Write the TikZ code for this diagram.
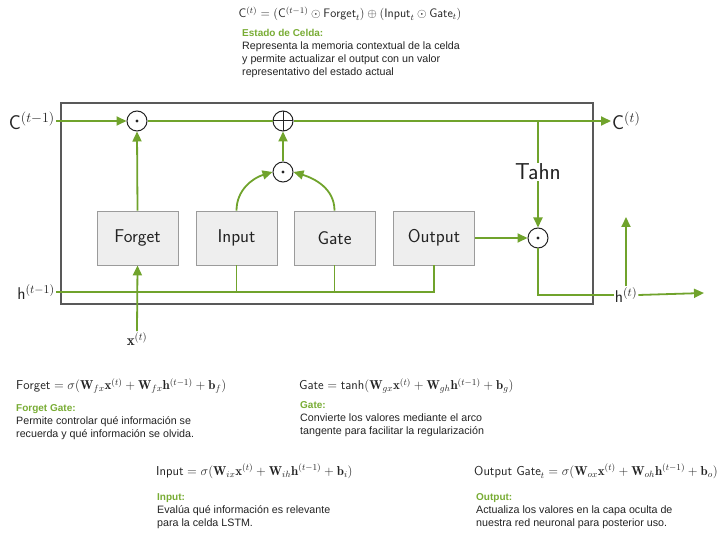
\RequirePackage{fix-cm}
\documentclass[tikz,border=0pt]{standalone}
\usepackage{fontspec}
\usepackage{amsmath}
\newfontfamily\bodyfont{Liberation Sans}
\usetikzlibrary{arrows.meta,calc}
\definecolor{lgreen}{RGB}{112,163,44}
\definecolor{tgreen}{RGB}{120,172,52}
\definecolor{boxgray}{RGB}{238,238,238}
\definecolor{edgegray}{RGB}{155,155,155}
\definecolor{txt}{RGB}{35,35,35}
\begin{document}
\begin{tikzpicture}[x=1pt,y=-1pt,
  conn/.style={draw=lgreen,line width=1.8pt},
  arr/.style={conn,-{Triangle[length=10pt,width=9pt]}},
  gatebox/.style={draw=edgegray,fill=boxgray,line width=0.9pt,minimum width=81pt,minimum height=54pt,inner sep=0pt,font=\sffamily\fontsize{18.5}{20}\selectfont,text=txt},
  opodot/.style={circle,draw=txt,line width=1pt,minimum size=20pt,inner sep=0pt,fill=white,
    path picture={\fill[txt] (path picture bounding box.center) circle (1.6pt);}},
  opplus/.style={circle,draw=txt,line width=1pt,minimum size=20pt,inner sep=0pt,fill=white,
    path picture={\draw[txt,line width=1pt] (path picture bounding box.north) -- (path picture bounding box.south)
      (path picture bounding box.west) -- (path picture bounding box.east);}},
  lbl/.style={inner sep=1pt,text=txt,font=\fontsize{20}{22}\selectfont},
  slbl/.style={inner sep=1pt,text=txt,font=\fontsize{17}{19}\selectfont},
  head/.style={anchor=base west,inner sep=0pt,text=tgreen,font=\bodyfont\bfseries\fontsize{10}{13}\selectfont},
  body/.style={anchor=base west,inner sep=0pt,text=txt,font=\bodyfont\fontsize{10.7}{13}\selectfont},
  formula/.style={anchor=west,inner sep=0pt,text=txt,font=\fontsize{12.9}{14}\selectfont}
]
\useasboundingbox (0,0) rectangle (720,534);

% frame
\node[draw=black!65,line width=1.2pt,minimum width=532pt,minimum height=201pt,inner sep=0pt] (frame) at (327,203.5) {};

% operators
\node[opodot] (o1) at (137,121) {};
\node[opplus] (plus) at (283,121) {};
\node[opodot] (o2) at (283,172) {};
\node[opodot] (o3) at (538,238) {};

% gate boxes
\node[gatebox] (forget) at (137.5,238) {Forget};
\node[gatebox] (input) at (236.5,238) {Input};
\node[gatebox] (gate) at (334.5,238) {Gate};
\node[gatebox] (output) at (434,238) {Output};

% labels
\node[lbl,anchor=east] (cprev) at (56,121) {$\mathsf{C}^{(t-1)}$};
\node[lbl,anchor=west] (ct) at (611,121) {$\mathsf{C}^{(t)}$};
\node[slbl,anchor=east] (hprev) at (56,292) {$\mathsf{h}^{(t-1)}$};
\node[slbl,fill=white] (ht) at (626,295) {$\mathsf{h}^{(t)}$};
\node[slbl,font=\fontsize{15}{17}\selectfont] (xt) at (137,339) {$\mathbf{x}^{(t)}$};
\node[text=txt,font=\sffamily\fontsize{23}{25}\selectfont,inner sep=1pt,fill=white] (tahn) at (538,172) {Tahn};
\coordinate (cj) at (538,121);
\coordinate (hend) at (704,293);
\coordinate (hup) at (626,217);

% cell state line
\draw[arr] (cprev.east) -- (o1.west);
\draw[conn] (o1.east) -- (plus.west);
\draw[arr] (plus.east) -- (ct.west);
\draw[conn] (cj) -- (tahn.north);
\draw[arr] (tahn.south) -- (o3.north);

% gates
\draw[arr] (forget.north) -- (o1.south);
\draw[arr] (o2.north) -- (plus.south);
\draw[arr] (input.north) to[out=90,in=197] (o2.west);
\draw[arr] (gate.north) to[out=90,in=-17] (o2.east);
\draw[arr] (output.east) -- (o3.west);
\draw[arr] (xt.north) -- (forget.south);

% hidden line
\draw[conn] (hprev.east) -| (output.south);
\draw[conn] (input.south) -- (input.south |- hprev.east);
\draw[conn] (gate.south) -- (gate.south |- hprev.east);
\draw[conn] (o3.south) |- (ht.west);
\draw[arr] (ht.east) -- (hend);
\draw[arr] (ht.north) -- (hup);

% top text
\node[text=txt,inner sep=0pt,font=\fontsize{12.3}{14}\selectfont] (ftop) at (350,14)
  {$\mathsf{C}^{(t)} = (\mathsf{C}^{(t-1)} \odot \mathsf{Forget}_t) \oplus (\mathsf{Input}_t \odot \mathsf{Gate}_t)$};
\node[head] (hcell) at (242,37) {Estado de Celda:};
\node[body] (bcell1) at (242,50) {Representa la memoria contextual de la celda};
\node[body] (bcell2) at (242,63) {y permite actualizar el output con un valor};
\node[body] (bcell3) at (242,76) {representativo del estado actual};

% forget
\node[formula] (fforget) at (16,386) {$\mathsf{Forget} = \sigma(\mathbf{W}_{fx}\mathbf{x}^{(t)} + \mathbf{W}_{fx}\mathbf{h}^{(t-1)} + \mathbf{b}_f)$};
\node[head] (hforget) at (16,411.5) {Forget Gate:};
\node[body] (bforget1) at (16,424.5) {Permite controlar qué información se};
\node[body] (bforget2) at (16,437.5) {recuerda y qué información se olvida.};

% gate
\node[formula] (fgate) at (299,386) {$\mathsf{Gate} = \mathsf{tanh}(\mathbf{W}_{gx}\mathbf{x}^{(t)} + \mathbf{W}_{gh}\mathbf{h}^{(t-1)} + \mathbf{b}_g)$};
\node[head] (hgate) at (300,408) {Gate:};
\node[body] (bgate1) at (300,421) {Convierte los valores mediante el arco};
\node[body] (bgate2) at (300,434) {tangente para facilitar la regularización};

% input
\node[formula] (finput) at (156,471) {$\mathsf{Input} = \sigma(\mathbf{W}_{ix}\mathbf{x}^{(t)} + \mathbf{W}_{ih}\mathbf{h}^{(t-1)} + \mathbf{b}_i)$};
\node[head] (hinput) at (157,500.5) {Input:};
\node[body] (binput1) at (157,513.5) {Evalúa qué información es relevante};
\node[body] (binput2) at (157,526.5) {para la celda LSTM.};

% output
\node[formula] (foutput) at (474,471) {$\mathsf{Output\ Gate}_t = \sigma(\mathbf{W}_{ox}\mathbf{x}^{(t)} + \mathbf{W}_{oh}\mathbf{h}^{(t-1)} + \mathbf{b}_o)$};
\node[head] (houtput) at (476,500.5) {Output:};
\node[body] (boutput1) at (476,513.5) {Actualiza los valores en la capa oculta de};
\node[body] (boutput2) at (476,526.5) {nuestra red neuronal para posterior uso.};
\end{tikzpicture}
\end{document}
